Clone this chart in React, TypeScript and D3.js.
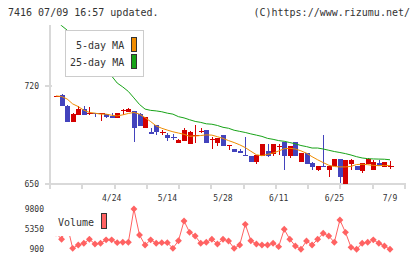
import React from 'react';
import * as d3 from 'd3';

// daily prices, oldest first
const opens = [713, 713.6, 705.8, 694.6, 699.4, 703.4, 701, 701, 700.6, 700.1, 698.9, 697.4, 702.9, 701.7, 702.2, 700.1, 689.9, 687.5, 692.2, 687.5,
  685.1, 683.6, 679.6, 680.4, 678.5, 685.1, 688, 688.7, 682.3, 679.6, 685.1, 676.8, 675.2, 673.7, 670.9, 670.2, 665.4, 670.2, 673.7, 671.4,
  677.5, 680.1, 669.7, 680.1, 665.4, 672.5, 664.7, 659.7, 663.1, 659.7, 662.6, 668, 650, 664.3, 663.1, 659.5, 664.5, 660.2, 665, 661.9, 663.1];
const highs = [713, 714.1, 706.5, 701, 705.8, 705.8, 705.3, 701, 701, 700.1, 700.6, 701, 703.4, 704, 702.2, 700.6, 697.7, 689.9, 692.2, 688.7,
  686.3, 685.8, 682, 689.9, 687.8, 692.2, 690.3, 688.7, 683.5, 683.2, 685.1, 678, 675.2, 675.2, 683.5, 670.2, 670.9, 678.7, 678.7, 678.7,
  678.7, 680.1, 677.3, 680.1, 672.5, 672.5, 665.4, 663.1, 685.1, 663.1, 668, 668, 667.3, 667.6, 663.1, 665.2, 668.8, 667.3, 667.3, 665.9, 666.1];
const lows = [713, 705.8, 694.6, 694.6, 699.4, 699.4, 699.4, 698.2, 695.3, 697, 697, 697.4, 699.4, 701.7, 679.9, 691.7, 689.9, 685.6, 685.1, 685.1,
  680.4, 681.6, 679.6, 680.4, 678.5, 679.6, 686.3, 679.6, 675.2, 677.5, 677.5, 674.4, 673.2, 671.8, 669.7, 665.4, 664.5, 670.2, 669.3, 670,
  670.9, 659.7, 668.3, 669.7, 665.4, 664, 660.2, 659, 662, 654.7, 662.6, 651, 650, 659.7, 659.7, 657.9, 664.5, 659.7, 662.6, 661.9, 660.7];
const closes = [713, 705.8, 694.6, 700.1, 703.4, 699.4, 701, 700.1, 700.6, 698.2, 697.4, 700.8, 702.9, 703.6, 689.9, 691.7, 697.7, 685.6, 686.8, 687.5,
  683.2, 683.2, 681.1, 688.7, 687.2, 685.1, 688, 679.6, 682.3, 683.2, 677.5, 678, 673.2, 671.8, 669.7, 665.4, 670.9, 678.7, 670.2, 678.7,
  677.5, 669.7, 677.3, 669.7, 672.5, 664, 662, 663.1, 662, 663.1, 668, 654.8, 667.3, 667.3, 659.7, 665.2, 667.8, 665.9, 662.6, 665.9, 663.1];

const ma5 = [712.9, 712.5, 710.7, 707.2, 705.3, 702.7, 701.1, 700.6, 699.9, 699.9, 699.1, 698.6, 699.4, 700.4, 701.1, 699.9, 697.4, 694.6, 691.5, 689.8,
  688.5, 687.3, 686.4, 685.5, 684.1, 684.3, 684.6, 685.1, 684.9, 683.8, 682.6, 681, 679.6, 678, 676, 673.4, 670.9, 670.2, 671.2, 672.1,
  673.6, 675.2, 675.5, 675, 673.7, 672, 669.5, 667.3, 665.3, 663.4, 662.5, 662.2, 662.2, 662.6, 663.9, 664.1, 663.8, 663.3, 663.1, 663.3, 663.1];
const ma25 = [767, 763.1, 759.9, 755.6, 751.3, 747, 742.8, 738.5, 734.2, 730.3, 727.1, 722.1, 719.3, 716.1, 711.5, 706.8, 703.5, 702.6, 702.2, 701.6,
  700.6, 699.9, 698.1, 697.2, 695.9, 694.7, 694, 693, 692.7, 691.8, 690.5, 689.8, 688.4, 687.6, 686.8, 685.8, 684.9, 684, 682.6, 681.9,
  681, 680.5, 679.6, 678.7, 677.5, 676.7, 675.7, 675.7, 675, 674.1, 673.2, 672.5, 671.7, 670.7, 669.5, 668.6, 668.1, 667.9, 667.8, 667.7, 667.3];

const volumes = [4500, 3125, 6300, 1120, 1860, 2240, 3130, 2080, 2240, 3000, 3000, 2370, 2460, 2460, 9870, 4080, 1860, 3000, 2240, 2370,
  2370, 1120, 2810, 7200, 4680, 3860, 2240, 2460, 3130, 2080, 3130, 2750, 1120, 1860, 6460, 2810, 2080, 1860, 1860, 2240,
  1480, 5350, 3130, 1630, 900, 2750, 1860, 3130, 4460, 3860, 2460, 7420, 4680, 1340, 900, 2240, 2460, 3000, 2240, 1630, 900];

const dateLabels = ['4/24', '5/14', '5/28', '6/11', '6/25', '7/9'];
const dateIndex = [10, 20, 30, 40, 50, 60];
const priceTicks = [650, 720];
const volumeTicks = [900, 5350, 9800];

const UP = '#d40000';
const DOWN = '#4343bd';
const GRID = '#d9d9d9';
const MONO = '"DejaVu Sans Mono", monospace';

export default function App() {
  const x = d3.scaleLinear().domain([0, 60]).range([56, 390]);
  const y = d3.scaleLinear().domain([650, 720]).range([184, 86]);
  const yv = d3.scaleLinear().domain([900, 9800]).range([249.3, 209.3]);
  // evenly spaced ticks along the bottom axis
  const tickX = d3.scaleLinear().domain([0, 11]).range([50, 405]);

  const line = (vals: number[]) =>
    d3.line<number>().x((d, i) => x(i)).y(d => y(d))(vals) || '';
  const volLine = d3.line<number>().x((d, i) => x(i)).y(d => yv(d))(volumes) || '';
  const diamond = d3.symbol().type(d3.symbolDiamond2).size(30)() || '';

  return (
    <svg width={420} height={259} style={{ display: 'block', position: 'absolute', left: 0, top: 0 }}
      fontFamily={MONO}>
      <rect width={420} height={259} fill="#fff" />
      <text x={8} y={16} fontSize={10} fill="#333">7416 07/09 16:57 updated.</text>
      <text x={410} y={16} fontSize={10} fill="#333" textAnchor="end">(C)https://www.rizumu.net/</text>

      <defs>
        <clipPath id="plot">
          <rect x={50} y={25} width={356} height={161} />
        </clipPath>
      </defs>

      {/* axes */}
      <g shapeRendering="crispEdges" stroke={GRID} strokeWidth={2}>
        <line x1={50} x2={50} y1={25} y2={189} />
        <line x1={45} x2={406} y1={184} y2={184} />
        {d3.range(12).map(i => (
          <line key={i} x1={tickX(i)} x2={tickX(i)} y1={184} y2={189} />
        ))}
        {priceTicks.map(t => (
          <line key={t} x1={45} x2={52} y1={y(t)} y2={y(t)} />
        ))}
      </g>
      {priceTicks.map(t => (
        <text key={t} x={39} y={y(t) + 3} fontSize={8} fill="#333" textAnchor="end">{t}</text>
      ))}
      {dateLabels.map((d, k) => (
        <text key={d} x={x(dateIndex[k])} y={201} fontSize={8} fill="#333" textAnchor="middle">{d}</text>
      ))}

      <g clipPath="url(#plot)">
        {/* candles */}
        <g shapeRendering="crispEdges">
          {opens.map((o, i) => {
            const c = closes[i];
            const col = c >= o ? UP : DOWN;
            const cx = Math.round(x(i));
            const top = y(Math.max(o, c));
            const h = y(Math.min(o, c)) - top;
            return (
              <g key={i}>
                <line x1={cx + 0.5} x2={cx + 0.5} y1={y(highs[i])} y2={y(lows[i])} stroke={col} />
                {h < 1.5
                  ? <line x1={cx - 2.5} x2={cx + 3.5} y1={Math.round(top) + 0.5} y2={Math.round(top) + 0.5} stroke={col} />
                  : <rect x={cx - 2} y={top} width={5} height={h} fill={col} />}
              </g>
            );
          })}
        </g>
        <path d={line(ma5)} fill="none" stroke="#f08c00" strokeWidth={1} />
        <path d={line(ma25)} fill="none" stroke="#17a317" strokeWidth={1} />
      </g>

      {/* price legend */}
      <rect x={65.5} y={30.5} width={78} height={46} fill="#fff" stroke="#ccc" />
      <text x={76} y={49} fontSize={10} fill="#333">5-day MA</text>
      <text x={70} y={66} fontSize={10} fill="#333">25-day MA</text>
      <rect x={131.5} y={37.5} width={5} height={14} fill="#f08c00" stroke="#333" />
      <rect x={131.5} y={54.5} width={5} height={14} fill="#17a317" stroke="#333" />

      {/* volume */}
      {volumeTicks.map(t => (
        <text key={t} x={44} y={yv(t) + 3} fontSize={8} fill="#333" textAnchor="end">{t}</text>
      ))}
      <path d={volLine} fill="none" stroke="#ff6262" strokeWidth={1} />
      {volumes.map((v, i) => (
        <path key={i} d={diamond} transform={`translate(${x(i)},${yv(v)})`} fill="#ff6262" />
      ))}
      <rect x={52} y={207} width={60} height={29} fill="#fff" />
      <text x={58} y={226} fontSize={10} fill="#333">Volume</text>
      <rect x={101.5} y={213.5} width={5} height={15} fill="#ff6262" stroke="#333" />
    </svg>
  );
}
